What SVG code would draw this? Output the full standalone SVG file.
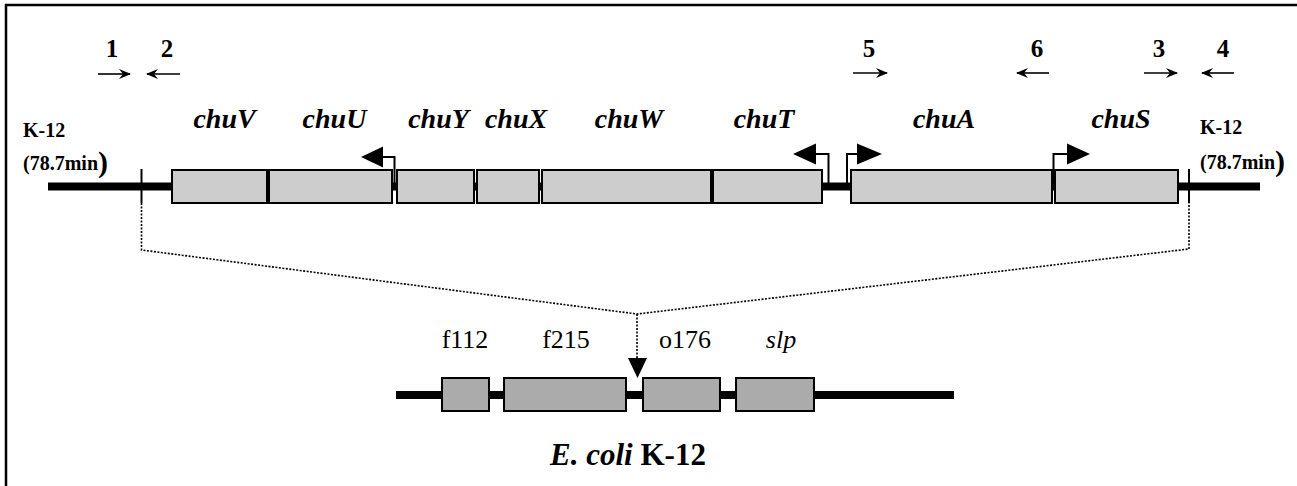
<svg xmlns="http://www.w3.org/2000/svg" width="1297" height="486" viewBox="0 0 1297 486">
<defs>
<style>
.gene{fill:#cdcdcd;stroke:#000;stroke-width:2}
.gene2{fill:#ababab;stroke:#000;stroke-width:2}
.dna{stroke:#000;stroke-width:8;fill:none}
.thin{stroke:#000;stroke-width:2;fill:none}
.dot{stroke:#000;stroke-width:1.6;fill:none;stroke-dasharray:2 1.5}
.head{fill:#000;stroke:none}
.gl{font-family:"Liberation Serif",serif;font-weight:bold;font-style:italic;font-size:28px;text-anchor:middle}
.num{font-family:"Liberation Serif",serif;font-weight:bold;font-size:25px;text-anchor:middle}
.k12{font-family:"Liberation Serif",serif;font-weight:bold;font-size:20px}
.lab{font-family:"Liberation Serif",serif;font-size:26px;text-anchor:middle}
.primer{stroke:#000;stroke-width:1.6;fill:none;marker-end:url(#pa)}
</style>
<marker id="pa" viewBox="0 0 12 10" refX="11" refY="5" markerWidth="12" markerHeight="10" markerUnits="userSpaceOnUse" orient="auto">
<path d="M0,0 L12,5 L0,10 L4,5 Z" fill="#000"/>
</marker>
</defs>
<rect width="1297" height="486" fill="#fff"/>
<path d="M6,486 V5 H1297" stroke="#000" stroke-width="2.5" fill="none"/>

<g id="connectors">
<line class="dna" x1="48" y1="186.5" x2="1260" y2="186.5"/>
<line class="thin" x1="141.5" y1="169" x2="141.5" y2="203"/>
<line class="thin" x1="1189" y1="169" x2="1189" y2="203"/>
<polyline class="dot" points="141.5,203 141.5,250 637,314 1189,249 1189,203"/>
<line class="dot" x1="637" y1="314" x2="637" y2="360"/>
<polygon class="head" points="628,358 647,358 637.5,378"/>
<line class="dna" x1="396" y1="395" x2="954" y2="395"/>
<polyline class="thin" points="394.5,186 394.5,157 382,157"/>
<polygon class="head" points="361,157 383,146.5 383,167.5"/>
<polyline class="thin" points="828.5,186 828.5,154 815,154"/>
<polygon class="head" points="793,154 816,143.5 816,164.5"/>
<polyline class="thin" points="847,186 847,154 858,154"/>
<polygon class="head" points="882,154 857,143.5 857,164.5"/>
<polyline class="thin" points="1053.5,186 1053.5,154 1068,154"/>
<polygon class="head" points="1090,154 1067,143.5 1067,164.5"/>
<line class="primer" x1="98" y1="74" x2="130" y2="74"/>
<line class="primer" x1="180" y1="74" x2="147" y2="74"/>
<line class="primer" x1="853" y1="73" x2="887" y2="73"/>
<line class="primer" x1="1049" y1="73" x2="1017" y2="73"/>
<line class="primer" x1="1144" y1="73" x2="1177" y2="73"/>
<line class="primer" x1="1234" y1="73" x2="1202" y2="73"/>
</g>

<g id="primer-labels">
<text class="num" x="112" y="57">1</text>
<text class="num" x="167" y="57">2</text>
<text class="num" x="869" y="57">5</text>
<text class="num" x="1037" y="57">6</text>
<text class="num" x="1159" y="57">3</text>
<text class="num" x="1223" y="57">4</text>
</g>

<g id="k12-left">
<text class="k12" x="23" y="137">K-12</text>
<text class="k12" x="23" y="170">(78.7min<tspan font-size="30" dy="2">)</tspan></text>
</g>
<g id="k12-right">
<text class="k12" x="1200" y="134">K-12</text>
<text class="k12" x="1200" y="169">(78.7min<tspan font-size="30" dy="2">)</tspan></text>
</g>

<g id="chuV"><rect class="gene" x="172" y="170" width="95" height="33"/><text class="gl" x="224.5" y="128">chuV</text></g>
<g id="chuU"><rect class="gene" x="269" y="170" width="123" height="33"/><text class="gl" x="334.5" y="128">chuU</text></g>
<g id="chuY"><rect class="gene" x="397" y="170" width="77" height="33"/><text class="gl" x="438.5" y="128">chuY</text></g>
<g id="chuX"><rect class="gene" x="477" y="170" width="62" height="33"/><text class="gl" x="516" y="128">chuX</text></g>
<g id="chuW"><rect class="gene" x="542" y="170" width="169" height="33"/><text class="gl" x="629" y="128">chuW</text></g>
<g id="chuT"><rect class="gene" x="713" y="170" width="109" height="33"/><text class="gl" x="764" y="128">chuT</text></g>
<g id="chuA"><rect class="gene" x="851" y="170" width="201" height="33"/><text class="gl" x="944" y="128">chuA</text></g>
<g id="chuS"><rect class="gene" x="1055" y="170" width="123" height="33"/><text class="gl" x="1121" y="128">chuS</text></g>

<g id="f112"><rect class="gene2" x="442" y="378" width="47" height="33"/><text class="lab" x="465" y="348">f112</text></g>
<g id="f215"><rect class="gene2" x="504" y="378" width="122" height="33"/><text class="lab" x="566" y="348">f215</text></g>
<g id="o176"><rect class="gene2" x="643" y="378" width="77" height="33"/><text class="lab" x="685" y="348">o176</text></g>
<g id="slp"><rect class="gene2" x="736" y="378" width="78" height="33"/><text class="lab" x="781" y="348" font-style="italic">slp</text></g>

<g id="title">
<text x="628" y="465" font-family="'Liberation Serif',serif" font-weight="bold" font-size="31" text-anchor="middle"><tspan font-style="italic">E. coli</tspan> K-12</text>
</g>
</svg>
